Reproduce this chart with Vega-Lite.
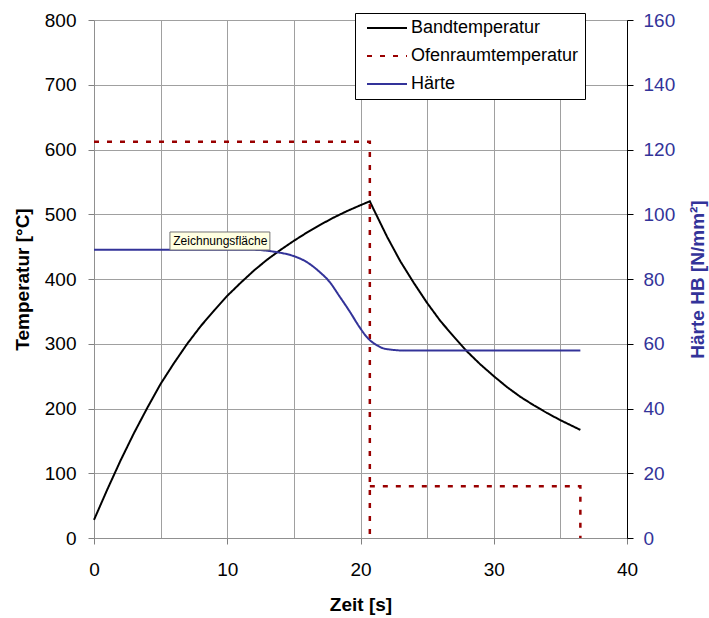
{
  "$schema": "https://vega.github.io/schema/vega-lite/v6.json",
  "width": 533,
  "height": 518,
  "autosize": "none",
  "padding": {"left": 94, "top": 20, "right": 82, "bottom": 80},
  "background": "white",
  "config": {"font": "Liberation Sans", "view": {"stroke": null}},
  "datasets": {
    "band": [
      {"t": 0, "T": 28, "series": "Bandtemperatur"},
      {"t": 1, "T": 75, "series": "Bandtemperatur"},
      {"t": 2, "T": 120, "series": "Bandtemperatur"},
      {"t": 3, "T": 162, "series": "Bandtemperatur"},
      {"t": 4, "T": 201, "series": "Bandtemperatur"},
      {"t": 5, "T": 238, "series": "Bandtemperatur"},
      {"t": 6, "T": 270, "series": "Bandtemperatur"},
      {"t": 7, "T": 300, "series": "Bandtemperatur"},
      {"t": 8, "T": 327, "series": "Bandtemperatur"},
      {"t": 9, "T": 351, "series": "Bandtemperatur"},
      {"t": 10, "T": 374, "series": "Bandtemperatur"},
      {"t": 11, "T": 394, "series": "Bandtemperatur"},
      {"t": 12, "T": 413, "series": "Bandtemperatur"},
      {"t": 13, "T": 430, "series": "Bandtemperatur"},
      {"t": 14, "T": 445, "series": "Bandtemperatur"},
      {"t": 15, "T": 459, "series": "Bandtemperatur"},
      {"t": 16, "T": 472, "series": "Bandtemperatur"},
      {"t": 17, "T": 484, "series": "Bandtemperatur"},
      {"t": 18, "T": 495, "series": "Bandtemperatur"},
      {"t": 19, "T": 505, "series": "Bandtemperatur"},
      {"t": 20, "T": 514, "series": "Bandtemperatur"},
      {"t": 20.7, "T": 520, "series": "Bandtemperatur"},
      {"t": 21, "T": 507, "series": "Bandtemperatur"},
      {"t": 22, "T": 465, "series": "Bandtemperatur"},
      {"t": 23, "T": 427, "series": "Bandtemperatur"},
      {"t": 24, "T": 394, "series": "Bandtemperatur"},
      {"t": 25, "T": 363, "series": "Bandtemperatur"},
      {"t": 26, "T": 335, "series": "Bandtemperatur"},
      {"t": 27, "T": 311, "series": "Bandtemperatur"},
      {"t": 28, "T": 288, "series": "Bandtemperatur"},
      {"t": 29, "T": 268, "series": "Bandtemperatur"},
      {"t": 30, "T": 250, "series": "Bandtemperatur"},
      {"t": 31, "T": 233, "series": "Bandtemperatur"},
      {"t": 32, "T": 218, "series": "Bandtemperatur"},
      {"t": 33, "T": 205, "series": "Bandtemperatur"},
      {"t": 34, "T": 193, "series": "Bandtemperatur"},
      {"t": 35, "T": 182, "series": "Bandtemperatur"},
      {"t": 36, "T": 172, "series": "Bandtemperatur"},
      {"t": 36.5, "T": 167, "series": "Bandtemperatur"}
    ],
    "ofen": [
      {"t": 0, "T": 612, "seg": "a", "o": 1, "series": "Ofenraumtemperatur"},
      {"t": 20.7, "T": 612, "seg": "a", "o": 2, "series": "Ofenraumtemperatur"},
      {"t": 20.7, "T": 0, "seg": "a", "o": 3, "series": "Ofenraumtemperatur"},
      {"t": 20.7, "T": 80, "seg": "b", "o": 4, "series": "Ofenraumtemperatur"},
      {"t": 36.5, "T": 80, "seg": "b", "o": 5, "series": "Ofenraumtemperatur"},
      {"t": 36.5, "T": 0, "seg": "b", "o": 6, "series": "Ofenraumtemperatur"}
    ],
    "haerte": [
      {"t": 0, "HB": 89, "series": "Härte"},
      {"t": 12, "HB": 89, "series": "Härte"},
      {"t": 13.7, "HB": 88.3, "series": "Härte"},
      {"t": 14.9, "HB": 87.2, "series": "Härte"},
      {"t": 15.9, "HB": 85.4, "series": "Härte"},
      {"t": 16.9, "HB": 82.3, "series": "Härte"},
      {"t": 17.7, "HB": 79.0, "series": "Härte"},
      {"t": 18.4, "HB": 74.8, "series": "Härte"},
      {"t": 19.2, "HB": 69.9, "series": "Härte"},
      {"t": 19.9, "HB": 65.3, "series": "Härte"},
      {"t": 20.55, "HB": 61.7, "series": "Härte"},
      {"t": 21.2, "HB": 59.6, "series": "Härte"},
      {"t": 21.9, "HB": 58.4, "series": "Härte"},
      {"t": 23.4, "HB": 57.9, "series": "Härte"},
      {"t": 36.5, "HB": 57.9, "series": "Härte"}
    ],
    "note": [
      {"x1": 5.7, "x2": 13.2, "y1": 472.6, "y2": 444.8, "tx": 5.95, "ty": 458.7, "label": "Zeichnungsfläche"}
    ]
  },
  "layer": [
    {
      "layer": [
        {
          "data": {"name": "band"},
          "mark": {"type": "line", "strokeWidth": 2},
          "encoding": {
            "x": {
              "field": "t", "type": "quantitative",
              "scale": {"domain": [0, 40], "nice": false, "zero": false},
              "axis": {
                "values": [0, 5, 10, 15, 20, 25, 30, 35, 40],
                "labelExpr": "datum.value % 10 === 0 ? datum.label : ''",
                "tickOpacity": {"condition": {"test": "datum.value % 10 === 0", "value": 1}, "value": 0},
                "grid": true, "gridColor": "#a0a0a0", "gridWidth": 1,
                "domainColor": "#909090", "tickColor": "#808080", "tickSize": 6,
                "labelFontSize": 19, "labelColor": "black", "labelPadding": 16, "labelOverlap": false, "labelFlush": false,
                "title": "Zeit [s]", "titleFontSize": 19, "titleFontWeight": "bold", "titleColor": "black",
                "titleX": 266.5, "titleY": 66, "titleBaseline": "middle", "titleAlign": "center"
              }
            },
            "y": {
              "field": "T", "type": "quantitative",
              "scale": {"domain": [0, 800], "nice": false},
              "axis": {
                "values": [0, 50, 100, 150, 200, 250, 300, 350, 400, 450, 500, 550, 600, 650, 700, 750, 800],
                "labelExpr": "datum.value % 100 === 0 ? datum.label : ''",
                "tickOpacity": {"condition": {"test": "datum.value % 100 === 0", "value": 1}, "value": 0},
                "grid": true, "gridColor": "#a0a0a0", "gridWidth": 1,
                "domainColor": "#909090", "tickColor": "#808080", "tickSize": 6,
                "labelFontSize": 19, "labelColor": "black", "labelPadding": 12, "labelOverlap": false, "labelFlush": false,
                "title": "Temperatur [°C]", "titleFontSize": 19, "titleFontWeight": "bold", "titleColor": "black",
                "titleX": -72, "titleY": 259, "titleAngle": -90, "titleBaseline": "middle", "titleAlign": "center"
              }
            },
            "color": {
              "field": "series", "type": "nominal",
              "scale": {"domain": ["Bandtemperatur", "Ofenraumtemperatur", "Härte"], "range": ["black", "#990000", "#333399"]},
              "legend": {
                "orient": "none", "legendX": 261, "legendY": -7, "title": null,
                "symbolType": "stroke", "symbolSize": 1600, "symbolStrokeWidth": 2, "symbolOffset": 5,
                "clipHeight": 18, "labelFontSize": 18, "labelOffset": 3, "rowPadding": 10, "padding": 6,
                "fillColor": "white", "strokeColor": "black", "labelColor": "black", "labelLimit": 300
              }
            },
            "strokeDash": {
              "field": "series", "type": "nominal",
              "scale": {"domain": ["Bandtemperatur", "Ofenraumtemperatur", "Härte"], "range": [[1, 0], [5, 8], [1, 0]]},
              "legend": {
                "orient": "none", "legendX": 261, "legendY": -7, "title": null,
                "symbolType": "stroke", "symbolSize": 1600, "symbolStrokeWidth": 2, "symbolOffset": 5,
                "clipHeight": 18, "labelFontSize": 18, "labelOffset": 3, "rowPadding": 10, "padding": 6,
                "fillColor": "white", "strokeColor": "black", "labelColor": "black", "labelLimit": 300
              }
            }
          }
        },
        {
          "data": {"name": "ofen"},
          "mark": {"type": "line", "strokeWidth": 2.5},
          "encoding": {
            "x": {"field": "t", "type": "quantitative"},
            "y": {"field": "T", "type": "quantitative"},
            "detail": {"field": "seg"},
            "order": {"field": "o"},
            "color": {"field": "series", "type": "nominal"},
            "strokeDash": {"field": "series", "type": "nominal"}
          }
        }
      ]
    },
    {
      "data": {"name": "haerte"},
      "mark": {"type": "line", "strokeWidth": 2, "interpolate": "monotone"},
      "encoding": {
        "x": {"field": "t", "type": "quantitative"},
        "y": {
          "field": "HB", "type": "quantitative",
          "scale": {"domain": [0, 160], "nice": false},
          "axis": {
            "orient": "right",
            "values": [0, 20, 40, 60, 80, 100, 120, 140, 160],
            "grid": false, "domainColor": "black", "tickColor": "black", "tickSize": 6,
            "labelFontSize": 19, "labelColor": "#333399", "labelPadding": 10, "labelOverlap": false, "labelFlush": false,
            "title": "Härte HB [N/mm²]", "titleFontSize": 19, "titleFontWeight": "bold", "titleColor": "#333399",
            "titleX": 70, "titleY": 259, "titleAngle": -90, "titleBaseline": "middle", "titleAlign": "center"
          }
        },
        "color": {"field": "series", "type": "nominal"},
        "strokeDash": {"field": "series", "type": "nominal"}
      }
    },
    {
      "data": {"name": "note"},
      "layer": [
        {
          "mark": {"type": "rect", "fill": "#ffffe1", "stroke": "#767676", "strokeWidth": 1},
          "encoding": {
            "x": {"field": "x1", "type": "quantitative"},
            "x2": {"field": "x2"},
            "y": {"field": "y1", "type": "quantitative", "scale": {"domain": [0, 800], "nice": false}, "axis": null},
            "y2": {"field": "y2"}
          }
        },
        {
          "mark": {"type": "text", "fontSize": 12, "align": "left", "baseline": "middle", "color": "black"},
          "encoding": {
            "x": {"field": "tx", "type": "quantitative"},
            "y": {"field": "ty", "type": "quantitative", "scale": {"domain": [0, 800], "nice": false}, "axis": null},
            "text": {"field": "label"}
          }
        }
      ]
    }
  ],
  "resolve": {"scale": {"y": "independent"}}
}
